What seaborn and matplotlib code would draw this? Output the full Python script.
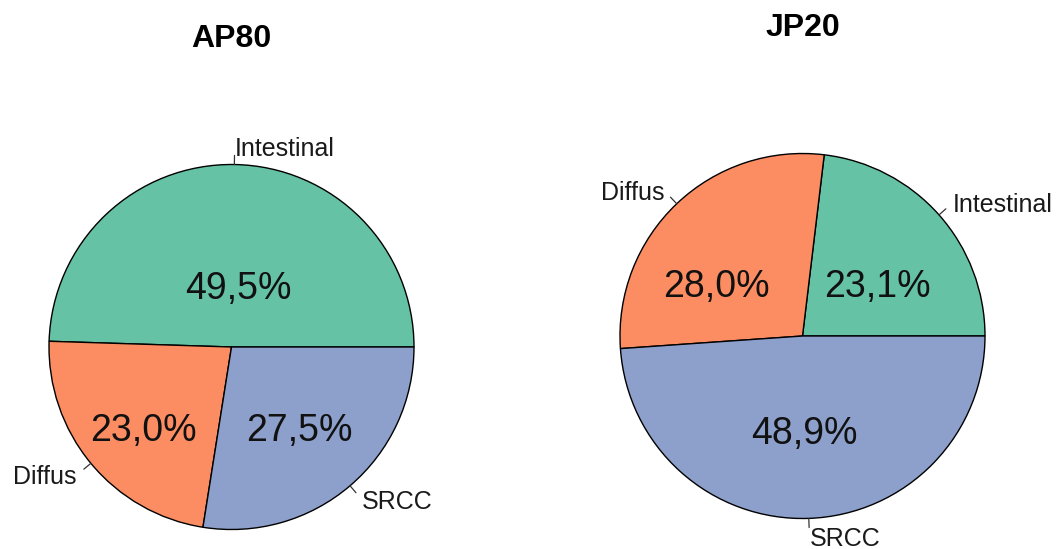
import numpy as np
import matplotlib
matplotlib.use("Agg")
import matplotlib.pyplot as plt
import seaborn as sns

# Tumour subtype shares per cohort (percent)
categories = ["Intestinal", "Diffus", "SRCC"]
ap80_pct = [49.5, 23.0, 27.5]
jp20_pct = [23.1, 28.0, 48.9]
titles = ["AP80", "JP20"]

# Inner percentage label placement (x, y in pie-radius units), per category
ap80_pct_xy = [(0.04, 0.34), (-0.48, -0.44), (0.37, -0.44)]
jp20_pct_xy = [(0.41, 0.29), (-0.47, 0.29), (0.01, -0.515)]

sns.set_theme(style="white")
plt.rcParams["font.family"] = ["Liberation Sans", "DejaVu Sans"]
colors = sns.color_palette("Set2", 3)

W, H = 1061, 549
fig = plt.figure(figsize=(W / 100, H / 100), dpi=100)
fig.patch.set_facecolor("white")

R = 182.5
centers = [(231.5, 347.0), (802.5, 336.0)]


def fmt(v):
    return f"{v:.1f}%".replace(".", ",")


def draw(center, values, pct_xy, title):
    cx, cy = center
    ax = fig.add_axes([(cx - R) / W, (H - cy - R) / H, 2 * R / W, 2 * R / H])
    wedges, texts = ax.pie(
        values, labels=categories, colors=colors, startangle=0,
        counterclock=True, radius=1.0, labeldistance=1.1,
        wedgeprops=dict(edgecolor="black", linewidth=1.0),
        textprops=dict(fontsize=18, color="#1a1a1a"),
    )
    for t in texts:
        t.set_verticalalignment("center_baseline")
    # short leader ticks at each slice's mid-angle
    for w in wedges:
        a = np.deg2rad((w.theta1 + w.theta2) / 2)
        ax.plot([np.cos(a), 1.05 * np.cos(a)], [np.sin(a), 1.05 * np.sin(a)],
                color="#333333", lw=0.9, clip_on=False)
    # percentage values inside slices
    for v, (x, y) in zip(values, pct_xy):
        ax.text(x, y, fmt(v), ha="center", va="center_baseline",
                fontsize=27, color="#111111")
    ax.text(0, 1.645, title, ha="center", va="baseline", fontsize=23,
            fontweight="bold", color="black")
    ax.set_xlim(-1, 1)
    ax.set_ylim(-1, 1)
    ax.set_aspect("equal")
    ax.axis("off")


draw(centers[0], ap80_pct, ap80_pct_xy, titles[0])
draw(centers[1], jp20_pct, jp20_pct_xy, titles[1])

fig.savefig("out.png", dpi=100, facecolor="white")
